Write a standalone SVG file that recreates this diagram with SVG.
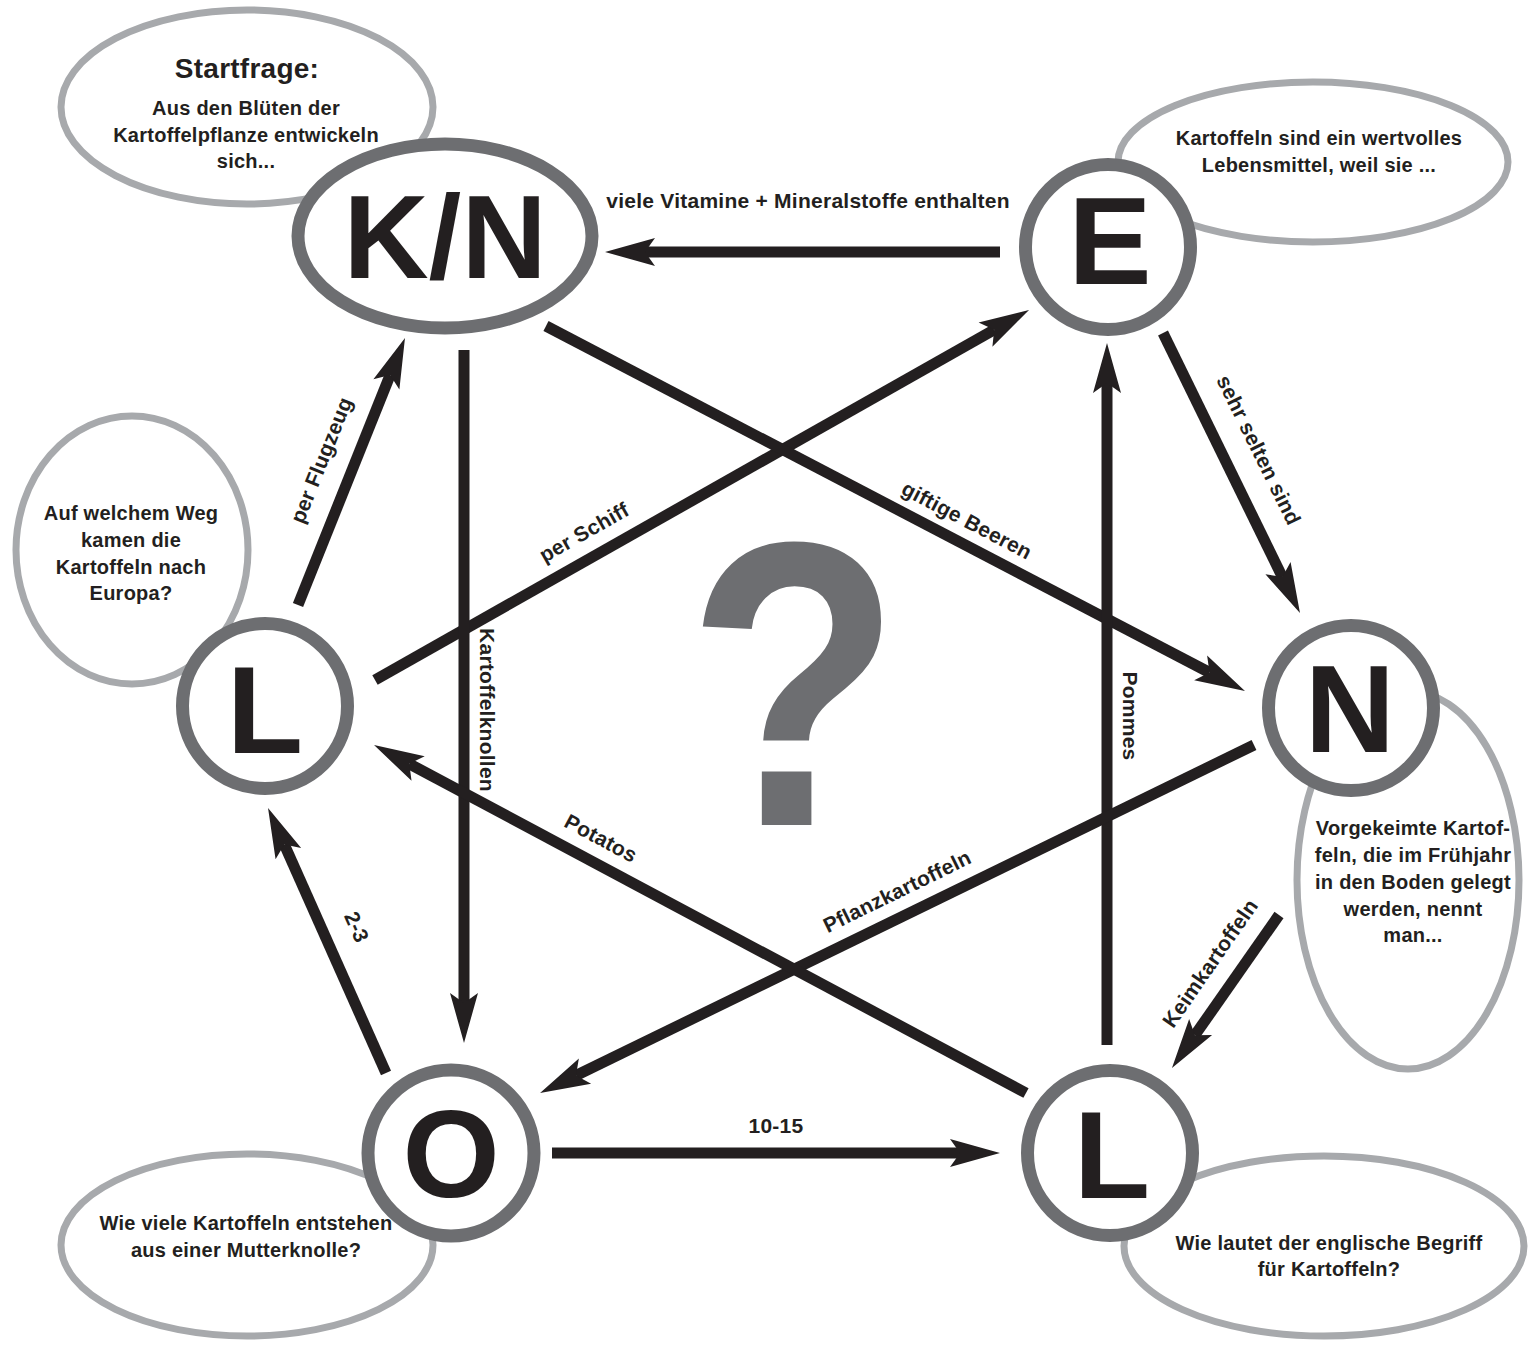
<svg xmlns="http://www.w3.org/2000/svg" width="1533" height="1347" viewBox="0 0 1533 1347">
<style>
.bub{fill:#fff;stroke:#a7a9ac;stroke-width:7}
.node{fill:#fff;stroke:#6d6e71;stroke-width:13}
.big{font-family:"Liberation Sans",Arial,sans-serif;font-weight:bold;fill:#231f20;text-anchor:middle}
.t{font-family:"Liberation Sans",Arial,sans-serif;font-weight:bold;fill:#231f20;text-anchor:middle;font-size:20px;letter-spacing:0.25px}
.lb{font-family:"Liberation Sans",Arial,sans-serif;font-weight:bold;fill:#231f20;text-anchor:middle;font-size:21px;letter-spacing:0.25px}
.c{fill:none;stroke:#231f20;stroke-width:11;marker-end:url(#ah)}
</style>
<defs>
<marker id="ah" markerUnits="userSpaceOnUse" orient="auto" viewBox="-12 -16 54 32" markerWidth="54" markerHeight="32" refX="0" refY="0">
<path d="M40,0 L-10,-14 L0,0 L-10,14 Z" fill="#231f20"/>
</marker>
</defs>
<rect width="1533" height="1347" fill="#fff"/>

<g id="bubbles">
<ellipse id="bubble-start" class="bub" cx="247" cy="107" rx="186" ry="97"/>
<ellipse id="bubble-e" class="bub" cx="1313" cy="162" rx="195" ry="80"/>
<ellipse id="bubble-l1" class="bub" cx="132" cy="550" rx="116" ry="134"/>
<ellipse id="bubble-n" class="bub" cx="1408" cy="880" rx="111" ry="189"/>
<ellipse id="bubble-o" class="bub" cx="247" cy="1245" rx="186" ry="91"/>
<ellipse id="bubble-l2" class="bub" cx="1324" cy="1246" rx="200" ry="90"/>
</g>

<g id="node-kn"><ellipse class="node" cx="445" cy="236" rx="147" ry="92"/><text class="big" x="445" y="278" font-size="118">K/N</text></g>
<g id="node-e"><circle class="node" cx="1108" cy="247" r="82.5"/><text class="big" x="1110" y="284" font-size="125">E</text></g>
<g id="node-n"><circle class="node" cx="1351" cy="708" r="82.5"/><text class="big" x="1350" y="752" font-size="125">N</text></g>
<g id="node-l1"><circle class="node" cx="265" cy="706" r="82.5"/><text class="big" x="265" y="753" font-size="125">L</text></g>
<g id="node-o"><circle class="node" cx="451" cy="1153" r="83"/><text class="big" x="451" y="1197" font-size="125">O</text></g>
<g id="node-l2"><circle class="node" cx="1110" cy="1153" r="82.5"/><text class="big" x="1112" y="1198" font-size="125">L</text></g>

<g id="connectors">
<line class="c" x1="1000" y1="252" x2="645" y2="252"/>
<line class="c" x1="375" y1="680" x2="994.2" y2="329.7"/>
<line class="c" x1="546" y1="326" x2="1209.5" y2="672.5"/>
<line class="c" x1="464" y1="350" x2="464" y2="1003"/>
<line class="c" x1="1107" y1="1045" x2="1107" y2="383"/>
<line class="c" x1="1163" y1="333" x2="1282.4" y2="577.1"/>
<line class="c" x1="1254" y1="745" x2="576" y2="1075.5"/>
<line class="c" x1="1026" y1="1093" x2="409.3" y2="763.8"/>
<line class="c" x1="298" y1="605" x2="390.1" y2="375.1"/>
<line class="c" x1="386" y1="1073" x2="284.3" y2="844.5"/>
<line class="c" x1="1279" y1="915" x2="1194.9" y2="1035.2"/>
<line class="c" x1="552" y1="1153" x2="960" y2="1153"/>
</g>

<g id="labels">
<text class="lb" x="808" y="208">viele Vitamine + Mineralstoffe enthalten</text>
<text class="lb" x="584" y="539.5" transform="rotate(-29.5 584 532)">per Schiff</text>
<text class="lb" x="967" y="527.5" transform="rotate(27.7 967 520)">giftige Beeren</text>
<text class="lb" x="487" y="717.5" transform="rotate(90 487 710)">Kartoffelknollen</text>
<text class="lb" x="1130" y="723.5" transform="rotate(90 1130 716)">Pommes</text>
<text class="lb" x="1259" y="457.5" transform="rotate(63.8 1259 450)">sehr selten sind</text>
<text class="lb" x="897" y="898.5" transform="rotate(-26 897 891)">Pflanzkartoffeln</text>
<text class="lb" x="601" y="845.5" transform="rotate(28.2 601 838)">Potatos</text>
<text class="lb" x="321" y="467.5" transform="rotate(-68.2 321 460)">per Flugzeug</text>
<text class="lb" x="357" y="934.5" transform="rotate(66 357 927)">2-3</text>
<text class="lb" x="1210" y="970.5" transform="rotate(-55.3 1210 963)">Keimkartoffeln</text>
<text class="lb" x="776" y="1133">10-15</text>
</g>

<g id="bubble-texts">
<text class="t" x="247" y="78" style="font-size:28px">Startfrage:</text>
<text class="t" x="246" y="115">Aus den Blüten der</text>
<text class="t" x="246" y="142">Kartoffelpflanze entwickeln</text>
<text class="t" x="246" y="168">sich...</text>
<text class="t" x="1319" y="145">Kartoffeln sind ein wertvolles</text>
<text class="t" x="1319" y="172">Lebensmittel, weil sie ...</text>
<text class="t" x="131" y="520">Auf welchem Weg</text>
<text class="t" x="131" y="547">kamen die</text>
<text class="t" x="131" y="574">Kartoffeln nach</text>
<text class="t" x="131" y="600">Europa?</text>
<text class="t" x="1413" y="835">Vorgekeimte Kartof-</text>
<text class="t" x="1413" y="862">feln, die im Frühjahr</text>
<text class="t" x="1413" y="889">in den Boden gelegt</text>
<text class="t" x="1413" y="916">werden, nennt</text>
<text class="t" x="1413" y="942">man...</text>
<text class="t" x="246" y="1230">Wie viele Kartoffeln entstehen</text>
<text class="t" x="246" y="1257">aus einer Mutterknolle?</text>
<text class="t" x="1329" y="1250">Wie lautet der englische Begriff</text>
<text class="t" x="1329" y="1276">für Kartoffeln?</text>
</g>

<text id="question" transform="translate(794 825) scale(0.865 1)" x="0" y="0" font-family="Liberation Sans, Arial, sans-serif" font-weight="bold" font-size="406" fill="#6d6e71" text-anchor="middle">?</text>
</svg>
